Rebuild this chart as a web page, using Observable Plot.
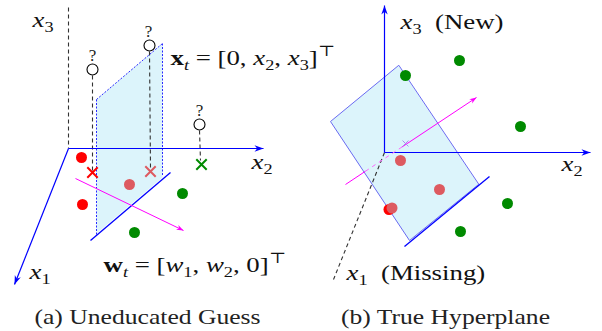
<!DOCTYPE html>
<html><head><meta charset="utf-8">
<script src="https://cdn.jsdelivr.net/npm/d3@7"></script>
<script src="https://cdn.jsdelivr.net/npm/@observablehq/plot@0.6"></script>
<style>body{margin:0;background:#fff} svg{display:block} svg text{font-family:"Liberation Serif","DejaVu Serif","Times New Roman",serif !important;}</style>
</head><body><div id="chart"></div>
<script>
// ---- figure data (figure-pixel coordinate system) ----
const axisArrows = [
  {id:"a-x2", x1:68, y1:148, x2:263, y2:148},
  {id:"a-x1", x1:68, y1:148, x2:14,  y2:284},
  {id:"b-x3", x1:384,y1:152, x2:384, y2:5},
  {id:"b-x2", x1:384,y1:152, x2:590, y2:152}
];
const dashedBlack = [
  {x1:68, y1:7,  x2:68,  y2:148},
  {x1:92, y1:75, x2:92,  y2:170},
  {x1:149,y1:51, x2:150, y2:168},
  {x1:199,y1:130,x2:200, y2:160},
  {x1:384,y1:152,x2:333, y2:279}
];
const planeA = [[96,99],[162,43],[162,177],[96,233]];
const planeB = [[398,65],[330,121],[409,240],[478,184]];
const planeAEdges = [
  {x1:96, y1:99, x2:96,  y2:235},
  {x1:96, y1:99, x2:162, y2:43},
  {x1:162,y1:43, x2:162, y2:176}
];
const boundaries = [
  {x1:90, y1:240, x2:170, y2:172},
  {x1:404,y1:246, x2:489, y2:176}
];
const normalArrows = [
  {id:"wA", x1:75, y1:178, x2:183, y2:230},
  {id:"wB", x1:401,y1:146.8, x2:476, y2:97}
];
const normalSolid = [{x1:345,y1:184,x2:365,y2:170.7}];
const normalHidden = [{x1:365,y1:170.7,x2:401,y2:146.8}];
const points = [
  {x:81, y:157, c:"red"}, {x:82, y:204, c:"red"}, {x:129,y:184,c:"pink"},
  {x:182,y:193, c:"green"}, {x:134,y:232,c:"green"},
  {x:388.5,y:209, c:"red"},
  {x:400,y:160, c:"pink"}, {x:439,y:189,c:"pink"}, {x:391.5,y:207.5,c:"pink"},
  {x:405,y:75, c:"green"}, {x:459,y:60, c:"green"}, {x:520,y:126,c:"green"},
  {x:507,y:203,c:"green"}, {x:460,y:231,c:"green"}
];
const unknowns = [{x:92,y:69},{x:149,y:45},{x:199,y:124}];
const projections = [{x:92,y:172,c:"red"},{x:150,y:171,c:"pink"},{x:201,y:164,c:"green"}];
const projectionB = [{x:405,y:143,c:"lav"}];
const mathLabels = [
  {x:32, y:26,  parts:[["x","i"],["3","sub"]]},
  {x:251,y:168, parts:[["x","i"],["2","sub"]]},
  {x:29, y:278, parts:[["x","i"],["1","sub"]]},
  {x:170,y:64,  parts:[["x","b"],["t","subi"],[" = [0, ","r"],["x","i"],["2","sub"],[", ","r"],["x","i"],["3","sub"],["]","r"],["⊤","sup"]]},
  {x:103,y:271, parts:[["w","b"],["t","subi"],[" = [","r"],["w","i"],["1","sub"],[", ","r"],["w","i"],["2","sub"],[", 0]","r"],["⊤","sup"]]},
  {x:400,y:28,  parts:[["x","i"],["3","sub"],["\u2002(New)","r"]]},
  {x:561,y:170, parts:[["x","i"],["2","sub"]]},
  {x:346,y:279, parts:[["x","i"],["1","sub"],["\u2002(Missing)","r"]]}
];
const questionMarks = [{x:92,y:60,t:"?"},{x:148,y:36,t:"?"},{x:199,y:115,t:"?"}];
const captions = [{x:147,y:323,t:"(a) Uneducated Guess"},{x:445,y:323,t:"(b) True Hyperplane"}];

// ---- helpers ----
const colors = {red:"#ff0000", pink:"#dd5a60", green:"#008a00", lav:"#a890f0"};
function heads(arrs, len, half){
  const out=[];
  for(const a of arrs){
    const dx=a.x2-a.x1, dy=a.y2-a.y1, L=Math.hypot(dx,dy), ux=dx/L, uy=dy/L;
    const bx=a.x2-ux*len, by=a.y2-uy*len;
    out.push({id:a.id,x:a.x2,y:a.y2},{id:a.id,x:bx-uy*half,y:by+ux*half},{id:a.id,x:a.x2-ux*len*0.7,y:a.y2-uy*len*0.7},{id:a.id,x:bx+uy*half,y:by-ux*half});
  }
  return out;
}
const poly = (pts,id)=>pts.map(([x,y])=>({id,x,y}));
const font = "Liberation Serif";
const plain = d=>d.parts.map(p=>p[0]).join("");
const stretch = 1.22; // the reference's Computer Modern type is wider than Liberation Serif

const chart = Plot.plot({
  width:602, height:331, margin:0,
  style:{fontFamily:"Liberation Serif, serif", background:"white"},
  x:{domain:[0,602], range:[0,602], axis:null},
  y:{domain:[0,331], range:[0,331], axis:null},
  marks:[
    Plot.line([...poly(planeA,"A"),...poly(planeB,"B")], {x:"x",y:"y",z:"id",fill:"#dcf4fb",stroke:"none",curve:"linear-closed"}),
    Plot.line(poly(planeB,"B"), {x:"x",y:"y",z:"id",stroke:"#6a6af2",strokeWidth:1,curve:"linear-closed"}),
    Plot.link(planeAEdges,{x1:"x1",y1:"y1",x2:"x2",y2:"y2",stroke:"#2a2aff",strokeWidth:1,strokeDasharray:"2,1.5"}),
    Plot.link(dashedBlack,{x1:"x1",y1:"y1",x2:"x2",y2:"y2",stroke:"#333",strokeWidth:1.1,strokeDasharray:"4,3"}),
    Plot.link(axisArrows,{x1:"x1",y1:"y1",x2:"x2",y2:"y2",stroke:"#0000ff",strokeWidth:1.2}),
    Plot.line(heads(axisArrows,9,3.2),{x:"x",y:"y",z:"id",fill:"#0000ff",stroke:"none",curve:"linear-closed"}),
    Plot.link(boundaries,{x1:"x1",y1:"y1",x2:"x2",y2:"y2",stroke:"#0000ff",strokeWidth:1.3}),
    Plot.link(normalArrows,{x1:"x1",y1:"y1",x2:"x2",y2:"y2",stroke:"#ff00ff",strokeWidth:1}),
    Plot.link(normalSolid,{x1:"x1",y1:"y1",x2:"x2",y2:"y2",stroke:"#ff00ff",strokeWidth:1}),
    Plot.link(normalHidden,{x1:"x1",y1:"y1",x2:"x2",y2:"y2",stroke:"#ff66ff",strokeWidth:1,strokeDasharray:"4,4"}),
    Plot.line(heads(normalArrows,7,2.6),{x:"x",y:"y",z:"id",fill:"#ff00ff",stroke:"none",curve:"linear-closed"}),
    Plot.dot(points,{x:"x",y:"y",r:5.5,fill:d=>colors[d.c],stroke:"none"}),
    Plot.dot(unknowns,{x:"x",y:"y",r:5.5,fill:"white",stroke:"black",strokeWidth:1.1}),
    Plot.dot(projections,{x:"x",y:"y",symbol:"times",r:4.8,stroke:d=>colors[d.c],strokeWidth:2}),
    Plot.dot(projectionB,{x:"x",y:"y",symbol:"times",r:2.8,stroke:d=>colors[d.c],strokeWidth:1}),
    Plot.text(questionMarks,{x:"x",y:"y",text:"t",fontSize:17,fontFamily:font,fill:"#222",textAnchor:"middle",lineAnchor:"bottom"}),
    Plot.text(captions,{x:"x",y:"y",text:"t",fontSize:21,fontFamily:font,fill:"#222",textAnchor:"middle",lineAnchor:"bottom"}),
    Plot.text(mathLabels,{x:"x",y:"y",text:plain,fontSize:22,fontFamily:font,fill:"#111",textAnchor:"start",lineAnchor:"bottom"})
  ]
});
document.getElementById("chart").appendChild(chart);

// rebuild math labels with italic / bold / sub- and superscripts
const byText = new Map(mathLabels.map(d=>[plain(d), d]));
d3.select(chart).selectAll("text").each(function(){
  const t = d3.select(this);
  const d = byText.get(this.textContent);
  if(this.textContent !== "?"){
    const tr = t.attr("transform");
    if(tr){ t.attr("transform", tr + ` scale(${stretch},1)`); }
    else {
      const x = +t.attr("x")||0, y = +t.attr("y")||0;
      t.attr("x",null).attr("y",null).attr("transform",`translate(${x},${y}) scale(${stretch},1)`);
    }
  }
  if(!d) return;
  t.text(null);
  let shift = 0;
  for(const [s,style] of d.parts){
    const sp = t.append("tspan").text(s);
    let target = 0;
    if(style==="i"){sp.attr("font-style","italic");}
    if(style==="b"){sp.attr("font-weight","bold");}
    if(style==="sub"||style==="subi"){sp.attr("font-size","15px"); target=5; if(style==="subi") sp.attr("font-style","italic");}
    if(style==="sup"){sp.attr("font-size","15px"); target=-9;}
    if(target!==shift){sp.attr("dy",target-shift); shift=target;}
  }
});
</script>
</body></html>
